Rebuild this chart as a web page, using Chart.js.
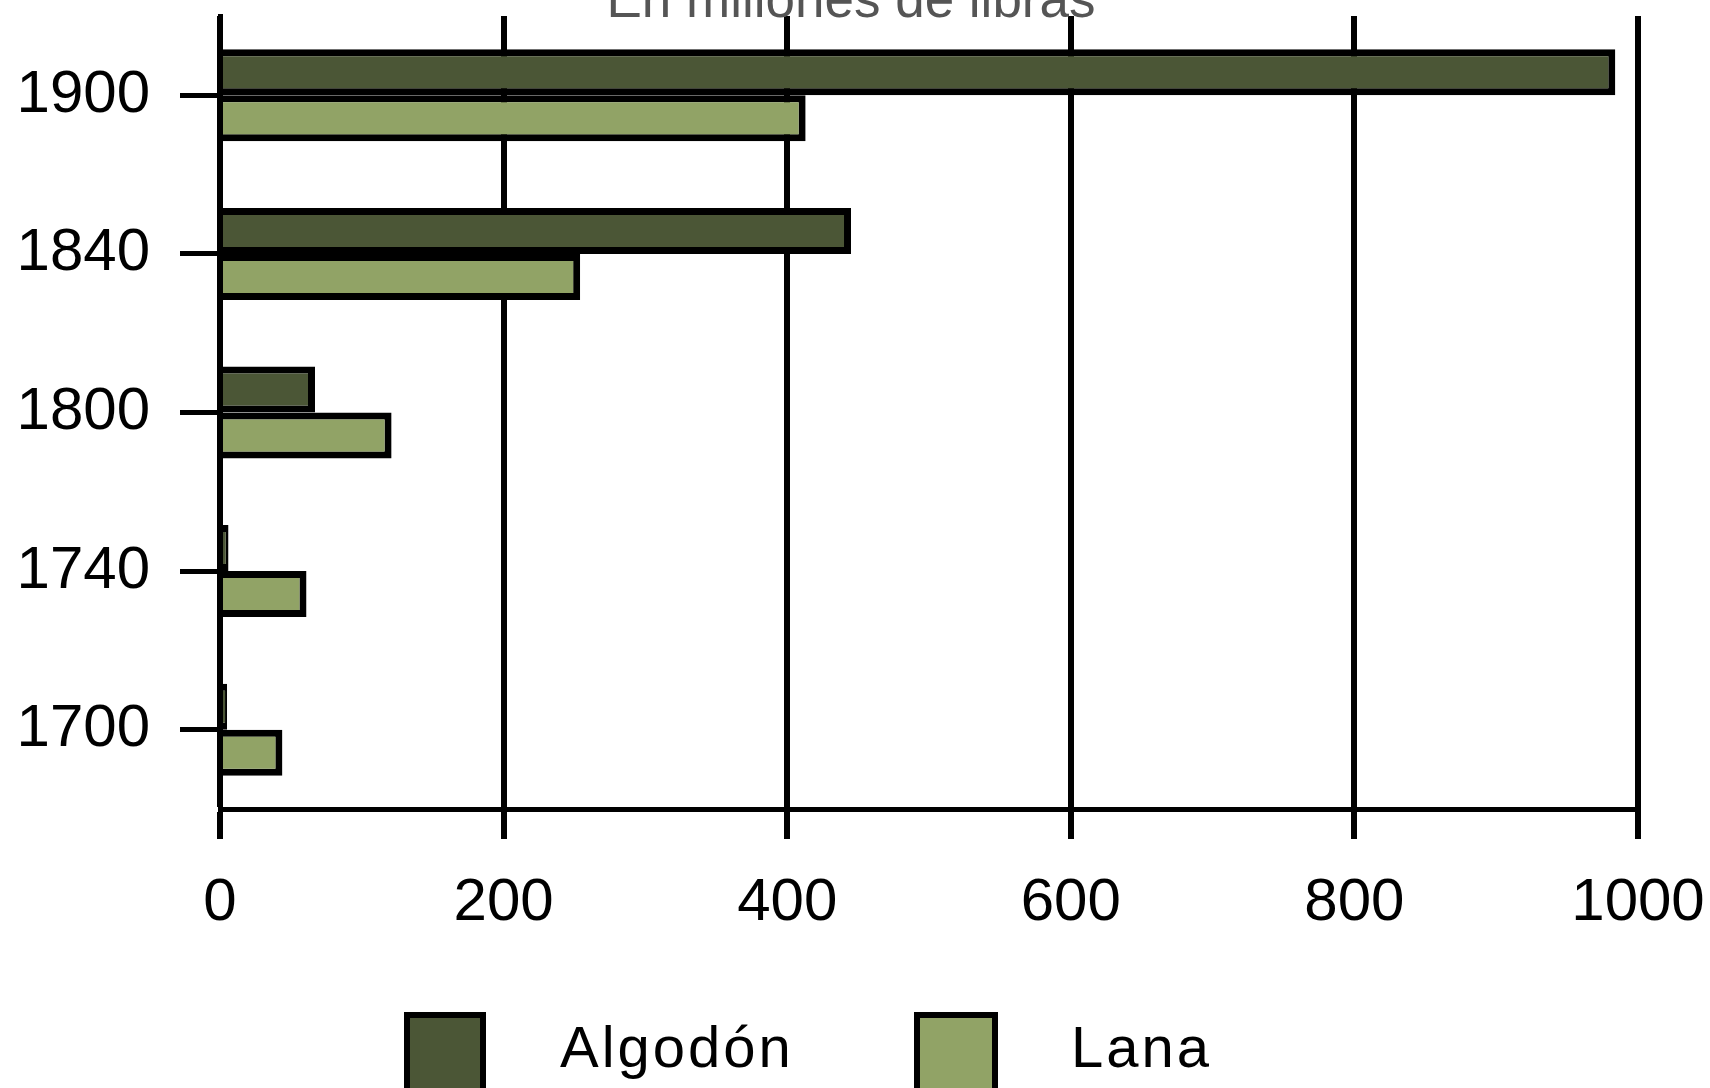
<!DOCTYPE html>
<html>
<head>
<meta charset="utf-8">
<script src="https://cdn.jsdelivr.net/npm/chart.js@4"></script>
<style>
  html, body { margin: 0; padding: 0; background: #fff; overflow: hidden; }
  body { width: 1710px; height: 1088px; position: relative; font-family: 'Liberation Sans', Arial, sans-serif; }
  .chart-box { position: absolute; left: 0; top: 0; width: 1710px; height: 1088px; }
  .title { position: absolute; left: 0; width: 1702px; top: -28px; text-align: center; font-size: 53px; line-height: 53px; color: #555; z-index: 2; }
  .legend-box { position: absolute; top: 1012px; height: 84px; box-sizing: border-box; border: 6px solid #000; }
  .legend-text { position: absolute; top: 1018px; font-size: 58px; line-height: 58px; letter-spacing: 3px; color: #000; }
</style>
</head>
<body>
<div class="chart-box"><canvas id="myChart" width="1710" height="1088"></canvas></div>
<div class="title">En millones de libras</div>
<div class="legend-box" id="box0" style="left:404px;width:82px;"></div>
<div class="legend-text" id="text0" style="left:560px;"></div>
<div class="legend-box" id="box1" style="left:914px;width:84px;"></div>
<div class="legend-text" id="text1" style="left:1071px;"></div>
<script>
let years = ['1900', '1840', '1800', '1740', '1700'];
let seriesNames = ['Algodón', 'Lana'];
let algodon = [984, 445, 67, 6, 5];
let lana = [413, 254, 121, 61, 44];
let xTicks = [0, 200, 400, 600, 800, 1000];

let colors = ['#4b5636', '#91a366'];

function renderLegend() {
  for (let i = 0; i < seriesNames.length; i++) {
    document.getElementById('box' + i).style.background = colors[i];
    document.getElementById('text' + i).innerText = seriesNames[i];
  }
}

function renderChart() {
  const ctx = document.getElementById('myChart');
  let tickFont = { family: "'Liberation Sans', Arial, sans-serif", size: 60 };

  new Chart(ctx, {
    type: 'bar',
    data: {
      labels: years,
      datasets: [
        {
          label: seriesNames[0],
          data: algodon,
          backgroundColor: colors[0],
          borderColor: '#000',
          borderWidth: 7,
        },
        {
          label: seriesNames[1],
          data: lana,
          backgroundColor: colors[1],
          borderColor: '#000',
          borderWidth: 7,
        },
      ],
    },
    options: {
      indexAxis: 'y',
      responsive: false,
      animation: false,
      categoryPercentage: 0.58,
      barPercentage: 1,
      layout: { padding: { top: 16, right: 72, left: 0, bottom: 0 } },
      plugins: {
        legend: { display: false },
        title: { display: false },
        tooltip: { enabled: false },
      },
      scales: {
        x: {
          min: 0,
          max: 1000,
          afterBuildTicks: (scale) => {
            scale.ticks = xTicks.map((v) => ({ value: v }));
          },
          afterFit: (scale) => {
            scale.height = 279;
            scale.paddingLeft = 0;
            scale.paddingRight = 0;
          },
          grid: {
            color: '#000',
            lineWidth: 6,
            tickLength: 30,
            tickColor: '#000',
            tickWidth: 6,
          },
          border: { display: true, color: '#000', width: 5 },
          ticks: {
            color: '#000',
            font: tickFont,
            padding: 28,
            maxRotation: 0,
            callback: (value) => String(value),
          },
        },
        y: {
          afterFit: (scale) => {
            scale.width = 220;
            scale.paddingTop = 0;
            scale.paddingBottom = 0;
          },
          grid: {
            offset: false,
            drawOnChartArea: false,
            tickLength: 40,
            tickColor: '#000',
            tickWidth: 5,
          },
          border: { display: true, color: '#000', width: 5 },
          ticks: { color: '#000', font: tickFont, padding: 30 },
        },
      },
    },
  });
}

renderLegend();
renderChart();
</script>
</body>
</html>
